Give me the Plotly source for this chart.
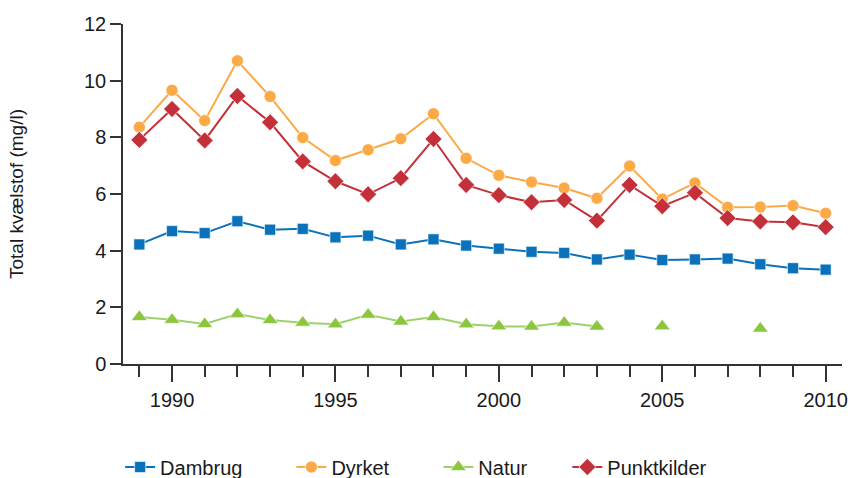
import plotly.graph_objects as go

years = list(range(1989, 2011))

dambrug = [4.22, 4.69, 4.62, 5.04, 4.74, 4.77, 4.47, 4.53, 4.22, 4.40, 4.18, 4.07, 3.96, 3.92,
           3.69, 3.86, 3.67, 3.69, 3.72, 3.52, 3.38, 3.33]
dyrket = [8.36, 9.66, 8.59, 10.70, 9.44, 7.99, 7.18, 7.56, 7.95, 8.83, 7.26, 6.66, 6.42, 6.21,
          5.85, 6.99, 5.82, 6.39, 5.53, 5.54, 5.59, 5.32]
natur = [1.66, 1.56, 1.41, 1.76, 1.55, 1.46, 1.40, 1.74, 1.50, 1.66, 1.40, 1.33, 1.32, 1.46,
         1.32, None, 1.33, None, None, 1.25, None, None]
punktkilder = [7.91, 9.00, 7.89, 9.46, 8.53, 7.15, 6.45, 5.99, 6.56, 7.94, 6.32, 5.96, 5.71, 5.79,
               5.06, 6.32, 5.57, 6.04, 5.15, 5.03, 5.00, 4.83]

series = [
    ("Dambrug", dambrug, "#0A72BA", "#0A72BA", "square", 11, "legend", -0.004),
    ("Dyrket", dyrket, "#FBAA45", "#FBAA45", "circle", 12, "legend2", 0.2342),
    ("Natur", natur, "#8CC63F", "#9CD26A", "triangle-up", 14, "legend3", 0.4386),
    ("Punktkilder", punktkilder, "#C3303A", "#C3303A", "diamond", 13, "legend4", 0.6180),
]

fig = go.Figure()
for name, vals, mcol, lcol, sym, size, leg, _ in series:
    fig.add_trace(go.Scatter(
        x=years, y=vals, name=name, mode="lines+markers",
        connectgaps=False, legend=leg,
        line=dict(color=lcol, width=2),
        marker=dict(symbol=sym, size=size, color=mcol,
                    line=dict(color="rgba(255,255,255,0.6)", width=1)),
    ))

axis_col = "#333333"
font = "Liberation Sans, Arial, Helvetica, sans-serif"

legends = {}
for name, vals, mcol, lcol, sym, size, leg, lx in series:
    legends[leg] = dict(orientation="h", x=lx, xanchor="left", y=-0.303, yanchor="middle",
                        font=dict(size=20), itemwidth=30, bgcolor="rgba(0,0,0,0)")

fig.update_layout(
    width=852, height=478,
    margin=dict(l=123, r=10, t=24, b=114, autoexpand=False),
    plot_bgcolor="white", paper_bgcolor="white",
    font=dict(family=font, size=20, color="#1a1a1a"),
    showlegend=True,
    xaxis=dict(
        range=[1988.5, 2010.5], tick0=1990, dtick=5,
        showgrid=False, zeroline=False, automargin=False,
        showline=True, linecolor=axis_col, linewidth=1.5,
        ticks="outside", ticklen=16, tickwidth=1.5, tickcolor=axis_col,
        ticklabelstandoff=1,
        minor=dict(dtick=1, tick0=1989, ticks="outside", ticklen=11, tickwidth=1.5,
                   tickcolor=axis_col, showgrid=False),
        tickfont=dict(size=20),
    ),
    yaxis=dict(
        range=[0, 12], dtick=2,
        showgrid=False, zeroline=False,
        showline=True, linecolor=axis_col, linewidth=1.5,
        ticks="outside", ticklen=11, tickwidth=1.5, tickcolor=axis_col,
        tickfont=dict(size=20),
        title=dict(text="Total kvælstof (mg/l)", font=dict(size=19), standoff=55),
        automargin=False,
    ),
    **legends,
)

fig.write_html("out.html",
               config={"displayModeBar": False},
               post_script="document.body.style.margin='0';document.body.style.padding='0';")
